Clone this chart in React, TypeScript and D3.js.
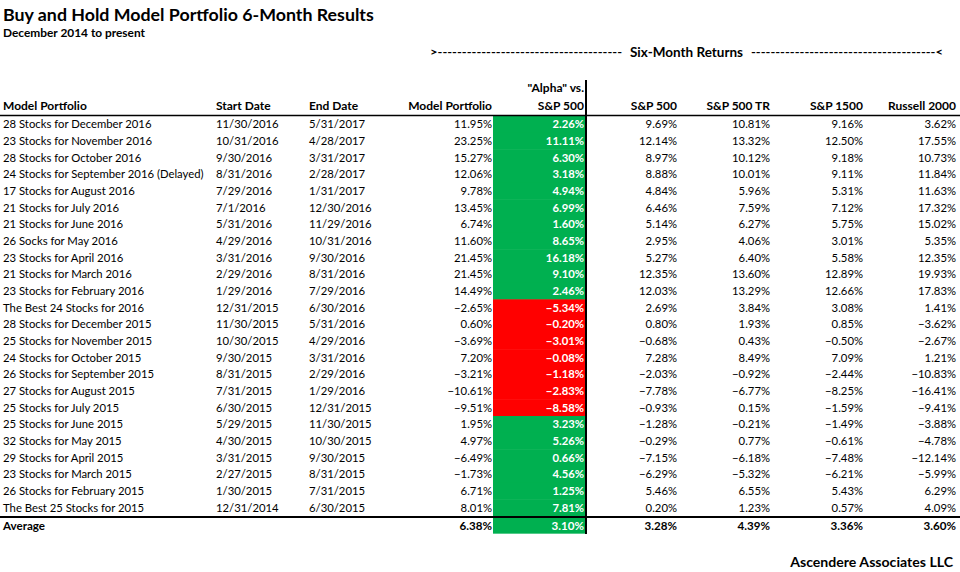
import React from "react";
import * as d3 from "d3";

const portfolios = [
  "28 Stocks for December 2016",
  "23 Stocks for November 2016",
  "28 Stocks for October 2016",
  "24 Stocks for September 2016 (Delayed)",
  "17 Stocks for August 2016",
  "21 Stocks for July 2016",
  "21 Stocks for June 2016",
  "26 Socks for May 2016",
  "23 Stocks for April 2016",
  "21 Stocks for March 2016",
  "23 Stocks for February 2016",
  "The Best 24 Stocks for 2016",
  "28 Stocks for December 2015",
  "25 Stocks for November 2015",
  "24 Stocks for October 2015",
  "26 Stocks for September 2015",
  "27 Stocks for August 2015",
  "25 Stocks for July 2015",
  "25 Stocks for June 2015",
  "32 Stocks for May 2015",
  "29 Stocks for April 2015",
  "23 Stocks for March 2015",
  "26 Stocks for February 2015",
  "The Best 25 Stocks for 2015",
];

const startDates = [
  "11/30/2016", "10/31/2016", "9/30/2016", "8/31/2016", "7/29/2016", "7/1/2016",
  "5/31/2016", "4/29/2016", "3/31/2016", "2/29/2016", "1/29/2016", "12/31/2015",
  "11/30/2015", "10/30/2015", "9/30/2015", "8/31/2015", "7/31/2015", "6/30/2015",
  "5/29/2015", "4/30/2015", "3/31/2015", "2/27/2015", "1/30/2015", "12/31/2014",
];

const endDates = [
  "5/31/2017", "4/28/2017", "3/31/2017", "2/28/2017", "1/31/2017", "12/30/2016",
  "11/29/2016", "10/31/2016", "9/30/2016", "8/31/2016", "7/29/2016", "6/30/2016",
  "5/31/2016", "4/29/2016", "3/31/2016", "2/29/2016", "1/29/2016", "12/31/2015",
  "11/30/2015", "10/30/2015", "9/30/2015", "8/31/2015", "7/31/2015", "6/30/2015",
];

const modelReturns = [
  11.95, 23.25, 15.27, 12.06, 9.78, 13.45, 6.74, 11.6, 21.45, 21.45, 14.49, -2.65,
  0.6, -3.69, 7.2, -3.21, -10.61, -9.51, 1.95, 4.97, -6.49, -1.73, 6.71, 8.01,
];
const alphaVsSP500 = [
  2.26, 11.11, 6.3, 3.18, 4.94, 6.99, 1.6, 8.65, 16.18, 9.1, 2.46, -5.34,
  -0.2, -3.01, -0.08, -1.18, -2.83, -8.58, 3.23, 5.26, 0.66, 4.56, 1.25, 7.81,
];
const sp500 = [
  9.69, 12.14, 8.97, 8.88, 4.84, 6.46, 5.14, 2.95, 5.27, 12.35, 12.03, 2.69,
  0.8, -0.68, 7.28, -2.03, -7.78, -0.93, -1.28, -0.29, -7.15, -6.29, 5.46, 0.2,
];
const sp500TR = [
  10.81, 13.32, 10.12, 10.01, 5.96, 7.59, 6.27, 4.06, 6.4, 13.6, 13.29, 3.84,
  1.93, 0.43, 8.49, -0.92, -6.77, 0.15, -0.21, 0.77, -6.18, -5.32, 6.55, 1.23,
];
const sp1500 = [
  9.16, 12.5, 9.18, 9.11, 5.31, 7.12, 5.75, 3.01, 5.58, 12.89, 12.66, 3.08,
  0.85, -0.5, 7.09, -2.44, -8.25, -1.59, -1.49, -0.61, -7.48, -6.21, 5.43, 0.57,
];
const russell2000 = [
  3.62, 17.55, 10.73, 11.84, 11.63, 17.32, 15.02, 5.35, 12.35, 19.93, 17.83, 1.41,
  -3.62, -2.67, 1.21, -10.83, -16.41, -9.41, -3.88, -4.78, -12.14, -5.99, 6.29, 4.09,
];

const averageLabel = "Average";
const averages = [6.38, 3.1, 3.28, 4.39, 3.36, 3.6];

const headers = ["Model Portfolio", "Start Date", "End Date", "Model Portfolio", "S&P 500", "S&P 500", "S&P 500 TR", "S&P 1500", "Russell 2000"];
const alphaHeaderTop = "\"Alpha\" vs.";
const title = "Buy and Hold Model Portfolio 6-Month Results";
const subtitle = "December 2014 to present";
const groupLabel = "Six-Month Returns";
const footer = "Ascendere Associates LLC";

const W = 960;
const H = 572;
const FONT = "Lato, 'Open Sans', sans-serif";
const GREEN = "#00B050";
const RED = "#FF0000";

const fmt = (v: number) => d3.format(".2f")(v) + "%";

export default function App() {
  const rowIdx = d3.range(portfolios.length);
  const y = d3.scaleBand<number>().domain(rowIdx).range([116, 516]).padding(0);
  const rh = y.bandwidth();
  const avgTop = 518;
  const avgMid = avgTop + rh / 2;

  const xName = 3;
  const xStart = 216;
  const xEnd = 309;
  const numRights = [492, 584, 677, 770, 863, 956];
  const alphaLeft = 493;
  const alphaRight = 585;

  const numCols = [modelReturns, alphaVsSP500, sp500, sp500TR, sp1500, russell2000];
  const fs = 11.3;
  const hfs = 12;
  const dy = 4;

  return (
    <svg width={W} height={H} style={{ position: "absolute", left: 0, top: 0, background: "#fff" }} fontFamily={FONT}>
      <rect x={0} y={0} width={W} height={H} fill="#fff" />
      <text x={3} y={21} fontSize={17.8} fontWeight="bold" fill="#000">{title}</text>
      <text x={3} y={37} fontSize={11.9} fontWeight="bold" fill="#000">{subtitle}</text>

      {/* Group header with dashes */}
      <text x={430} y={56} fontSize={12} fontWeight="bold" textLength={192} lengthAdjust="spacingAndGlyphs">
        {">" + "-".repeat(38)}
      </text>
      <text x={686.5} y={56.5} fontSize={13.5} fontWeight="bold" textAnchor="middle">{groupLabel}</text>
      <text x={751} y={56} fontSize={12} fontWeight="bold" textLength={192} lengthAdjust="spacingAndGlyphs">
        {"-".repeat(38) + "<"}
      </text>

      {/* Alpha column fills */}
      {rowIdx.map((i) => (
        <rect key={"f" + i} x={alphaLeft} y={y(i)!} width={alphaRight - alphaLeft} height={rh + 0.5}
          fill={alphaVsSP500[i] < 0 ? RED : GREEN} />
      ))}
      <rect x={alphaLeft} y={avgTop} width={alphaRight - alphaLeft} height={rh - 1} fill={averages[1] < 0 ? RED : GREEN} />

      {/* Headers */}
      <g fontSize={hfs} fontWeight="bold" fill="#000">
        <text x={xName} y={110}>{headers[0]}</text>
        <text x={xStart} y={110}>{headers[1]}</text>
        <text x={xEnd} y={110}>{headers[2]}</text>
        <text x={numRights[0]} y={110} textAnchor="end">{headers[3]}</text>
        <text x={numRights[1]} y={92} textAnchor="end">{alphaHeaderTop}</text>
        <text x={numRights[1]} y={110} textAnchor="end">{headers[4]}</text>
        <text x={numRights[2]} y={110} textAnchor="end">{headers[5]}</text>
        <text x={numRights[3]} y={110} textAnchor="end">{headers[6]}</text>
        <text x={numRights[4]} y={110} textAnchor="end">{headers[7]}</text>
        <text x={numRights[5]} y={110} textAnchor="end">{headers[8]}</text>
      </g>

      {/* Rows */}
      <g fontSize={fs} fill="#000">
        {rowIdx.map((i) => {
          const cy = y(i)! + rh / 2 + dy;
          return (
            <g key={"r" + i}>
              <text x={xName} y={cy}>{portfolios[i]}</text>
              <text x={xStart} y={cy}>{startDates[i]}</text>
              <text x={xEnd} y={cy}>{endDates[i]}</text>
              {numCols.map((col, c) => (
                <text key={c} x={numRights[c]} y={cy} textAnchor="end"
                  fill={c === 1 ? "#fff" : "#000"} fontWeight={c === 1 ? "bold" : "normal"}>
                  {fmt(col[i])}
                </text>
              ))}
            </g>
          );
        })}
      </g>

      {/* Average row */}
      <g fontSize={11.6} fontWeight="bold" fill="#000">
        <text x={xName} y={avgMid + dy}>{averageLabel}</text>
        {averages.map((v, c) => (
          <text key={c} x={numRights[c]} y={avgMid + dy} textAnchor="end" fill={c === 1 ? "#fff" : "#000"}>
            {fmt(v)}
          </text>
        ))}
      </g>

      {/* Lines */}
      <line x1={0} x2={W} y1={115.5} y2={115.5} stroke="#000" strokeWidth={1.5} />
      <line x1={0} x2={W} y1={517} y2={517} stroke="#000" strokeWidth={2} />
      <line x1={586} x2={586} y1={80} y2={534} stroke="#000" strokeWidth={2} />

      <text x={953} y={567} fontSize={14.1} fontWeight="bold" textAnchor="end">{footer}</text>
    </svg>
  );
}
